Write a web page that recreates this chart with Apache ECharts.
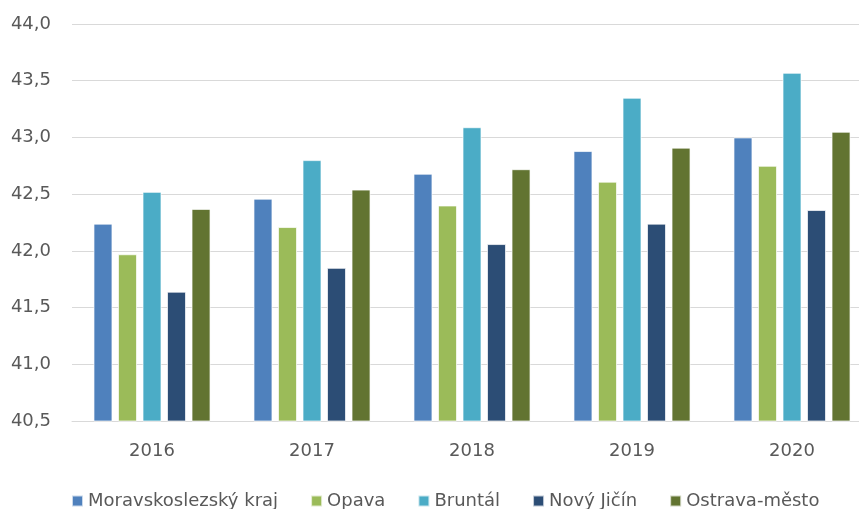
<html>
  <head>
    <meta charset="utf-8" />
    <title>ECharts</title>
    <script src="https://cdn.jsdelivr.net/npm/echarts@6/dist/echarts.min.js"></script>
  </head>
  <body style="margin:0;overflow:hidden">
    <!-- the original chart is cropped on the right, so the canvas is a bit wider than the window -->
    <div id="main" style="width:872px;height:509px;"></div>
    <script type="text/javascript">
      // data
      var years = ['2016', '2017', '2018', '2019', '2020'];
      var names = ['Moravskoslezský kraj', 'Opava', 'Bruntál', 'Nový Jičín', 'Ostrava-město'];
      var colors = ['#4F81BD', '#9BBB59', '#4BACC6', '#2C4D75', '#627431'];
      var moravskoslezsky = [42.24, 42.46, 42.68, 42.88, 43.00];
      var opava = [41.97, 42.21, 42.40, 42.61, 42.75];
      var bruntal = [42.52, 42.80, 43.09, 43.35, 43.57];
      var novyJicin = [41.64, 41.85, 42.06, 42.24, 42.36];
      var ostrava = [42.37, 42.54, 42.72, 42.91, 43.05];
      var values = [moravskoslezsky, opava, bruntal, novyJicin, ostrava];

      var font = 'DejaVu Sans, sans-serif';

      var myChart = echarts.init(document.getElementById('main'));
      var series = names.map(function (n, i) {
        return {
          name: n,
          type: 'bar',
          data: values[i],
          barWidth: 19,
          barGap: '29%',
          itemStyle: { color: colors[i], borderColor: 'rgba(255,255,255,0.7)', borderWidth: 1 }
        };
      });

      var option = {
        animation: false,
        grid: { left: 72, right: 0, top: 24, height: 397 },
        legend: {
          data: names,
          left: 66,
          top: 487,
          icon: 'rect',
          itemWidth: 11,
          itemHeight: 11,
          itemGap: 32,
          textStyle: { fontFamily: font, fontSize: 18, color: '#595959' }
        },
        xAxis: {
          type: 'category',
          data: years,
          axisLine: { lineStyle: { color: '#D9D9D9', width: 1 } },
          axisTick: { show: false },
          axisLabel: { fontFamily: font, fontSize: 18, color: '#595959', margin: 21 }
        },
        yAxis: {
          type: 'value',
          min: 40.5,
          max: 44,
          interval: 0.5,
          axisLine: { show: false },
          axisTick: { show: false },
          splitLine: { lineStyle: { color: '#D9D9D9', width: 1 } },
          axisLabel: {
            fontFamily: font,
            fontSize: 18,
            color: '#595959',
            margin: 21,
            formatter: function (v) { return v.toFixed(1).replace('.', ','); }
          }
        },
        series: series
      };

      myChart.setOption(option);
    </script>
  </body>
</html>
